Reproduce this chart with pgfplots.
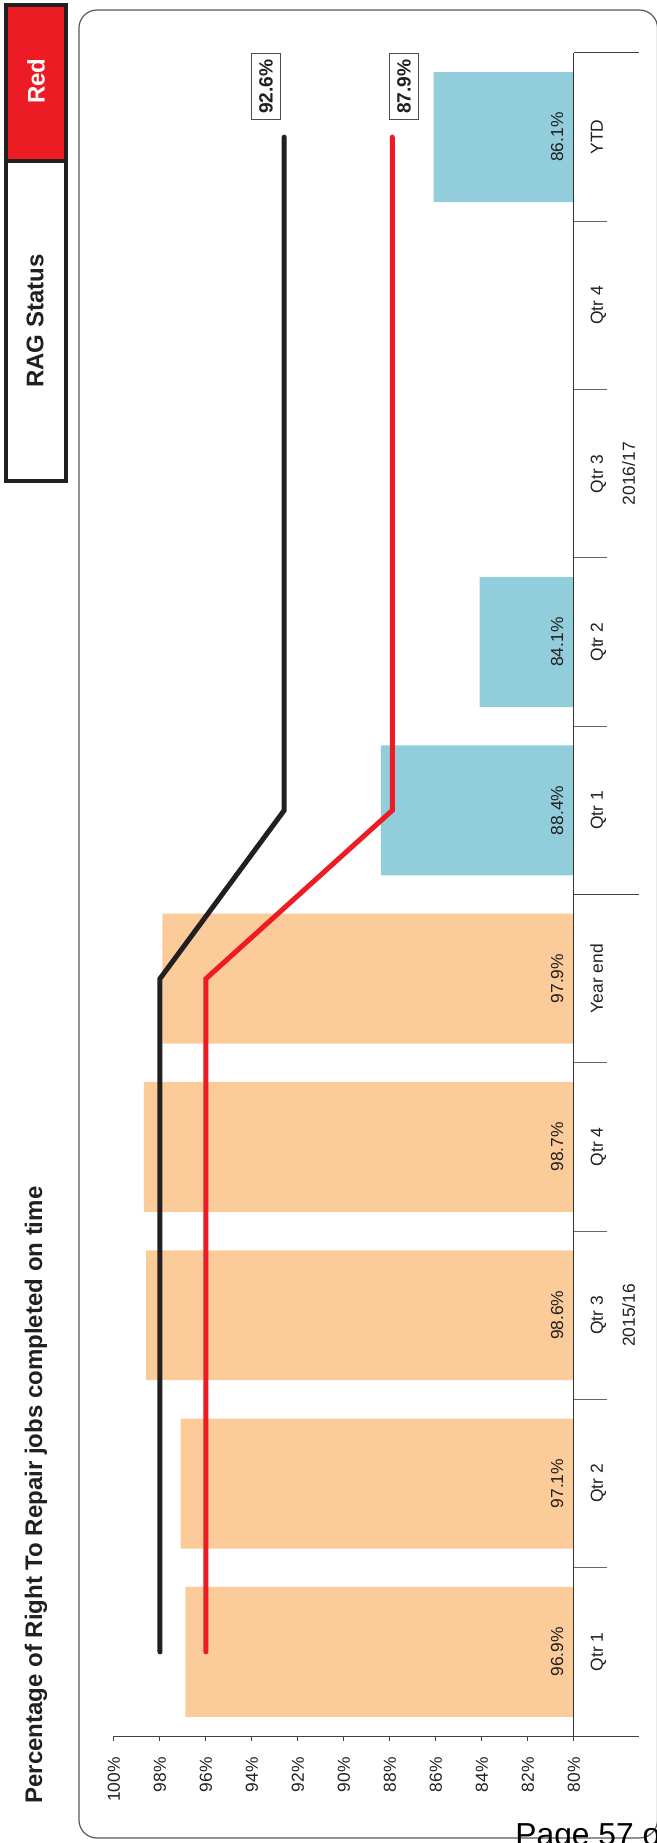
\documentclass[border=0pt]{standalone}
\usepackage{pgfplots}
\pgfplotsset{compat=1.18}
\usepackage{fontspec}
\setmainfont{Liberation Sans}
\definecolor{barorange}{RGB}{251,203,153}
\definecolor{barblue}{RGB}{146,205,220}
\definecolor{ragred}{RGB}{237,28,36}
\definecolor{inkblack}{RGB}{35,31,32}
\newcommand{\smallfont}{\fontsize{8.7}{10}\selectfont}
\begin{document}
\begin{tikzpicture}
\useasboundingbox (0,0) rectangle (328.5pt,-921.5pt);
\clip (0,0) rectangle (328.5pt,-921.5pt);
\begin{scope}[x=0.5pt,y=-0.5pt]
 \draw[black!65, line width=0.6pt, rounded corners=9pt] (79,10) rectangle (657.5,1838);
 \draw[inkblack, line width=2pt, fill=ragred] (6,4.5) rectangle (66,160.7);
 \draw[inkblack, line width=2pt] (6,160.7) rectangle (66,481);
 \node[rotate=90, text=white, font=\fontsize{12}{14}\selectfont\bfseries] at (36,81) {Red};
 \node[rotate=90, text=inkblack, font=\fontsize{12}{14}\selectfont\bfseries] at (35,321) {RAG Status};
 \node[rotate=90, anchor=base west, inner sep=0pt, text=inkblack, font=\fontsize{12}{14}\selectfont\bfseries] at (42,1804) {Percentage of Right To Repair jobs completed on time};
\end{scope}
\begin{axis}[
  at={(57pt,-868pt)}, anchor=south west,
  width=230pt, height=841.5pt, scale only axis,
  x coord trafo/.code={\pgfmathparse{#1-80}},
  x coord inv trafo/.code={\pgfmathparse{#1+80}},
  xmin=80, xmax=100, x dir=reverse,
  ymin=-0.5, ymax=9.5,
  axis x line*=bottom, axis y line=none,
  axis line style={-, black!75, line width=0.5pt},
  xtick={80,82,84,86,88,90,92,94,96,98,100},
  xticklabels={80\%,82\%,84\%,86\%,88\%,90\%,92\%,94\%,96\%,98\%,100\%},
  ytick=\empty,
  tick align=outside, major tick length=2.5pt,
  tick style={black!75, line width=0.5pt},
  xticklabel style={font=\smallfont, text=inkblack, yshift=-8pt, rotate=90, anchor=east, inner sep=0pt},
  clip=false,
  bar width=0.772,
]
\addplot[xbar, bar shift=0pt, fill=barorange, draw=none] coordinates {(96.9,0) (97.1,1) (98.6,2) (98.7,3) (97.9,4)};
\addplot[xbar, bar shift=0pt, fill=barblue, draw=none] coordinates {(88.4,5) (84.1,6) (86.1,9)};
% category axis and separators
\draw[black!80, line width=0.5pt] (axis cs:80,-0.5) -- (axis cs:80,9.5);
\draw[black!60, line width=0.5pt] (axis cs:80,0.5) -- (axis cs:78.565,0.5);
\draw[black!60, line width=0.5pt] (axis cs:80,1.5) -- (axis cs:78.565,1.5);
\draw[black!60, line width=0.5pt] (axis cs:80,2.5) -- (axis cs:78.565,2.5);
\draw[black!60, line width=0.5pt] (axis cs:80,3.5) -- (axis cs:78.565,3.5);
\draw[black!60, line width=0.5pt] (axis cs:80,5.5) -- (axis cs:78.565,5.5);
\draw[black!60, line width=0.5pt] (axis cs:80,6.5) -- (axis cs:78.565,6.5);
\draw[black!60, line width=0.5pt] (axis cs:80,7.5) -- (axis cs:78.565,7.5);
\draw[black!60, line width=0.5pt] (axis cs:80,8.5) -- (axis cs:78.565,8.5);
\draw[black!75, line width=0.5pt] (axis cs:80,-0.5) -- (axis cs:77.174,-0.5);
\draw[black!75, line width=0.5pt] (axis cs:80,4.5) -- (axis cs:77.174,4.5);
\draw[black!75, line width=0.5pt] (axis cs:80,9.5) -- (axis cs:77.174,9.5);
% target lines
\addplot[inkblack, line width=2.5pt, line cap=round, line join=miter] coordinates {(98,0) (98,1) (98,2) (98,3) (98,4) (92.6,5) (92.6,6) (92.6,7) (92.6,8) (92.6,9)};
\addplot[ragred, line width=2.5pt, line cap=round, line join=miter] coordinates {(96,0) (96,1) (96,2) (96,3) (96,4) (87.9,5) (87.9,6) (87.9,7) (87.9,8) (87.9,9)};
% value labels
\addplot[draw=none, nodes near coords, point meta=explicit symbolic,
  every node near coord/.style={rotate=90, anchor=base, inner sep=0pt, font=\smallfont, text=inkblack}]
  coordinates {(80.478,0) [96.9\%] (80.478,1) [97.1\%] (80.478,2) [98.6\%] (80.478,3) [98.7\%] (80.478,4) [97.9\%] (80.478,5) [88.4\%] (80.478,6) [84.1\%] (80.478,9) [86.1\%]};
% category labels
\addplot[draw=none, nodes near coords, point meta=explicit symbolic,
  every node near coord/.style={rotate=90, anchor=base, inner sep=0pt, font=\smallfont, text=inkblack}]
  coordinates {(78.74,0) [Qtr 1] (78.74,1) [Qtr 2] (78.74,2) [Qtr 3] (78.74,3) [Qtr 4] (78.74,4) [Year end] (78.74,5) [Qtr 1] (78.74,6) [Qtr 2] (78.74,7) [Qtr 3] (78.74,8) [Qtr 4] (78.74,9) [YTD]};
\addplot[draw=none, nodes near coords, point meta=explicit symbolic,
  every node near coord/.style={rotate=90, anchor=base, inner sep=0pt, font=\smallfont, text=inkblack}]
  coordinates {(77.35,2) [2015/16] (77.35,7) [2016/17]};
% end-of-line value boxes
\addplot[draw=none, nodes near coords, point meta=explicit symbolic,
  every node near coord/.style={rotate=90, anchor=center, draw=black!70, line width=0.6pt, inner xsep=3pt, inner ysep=4pt, font=\fontsize{9.6}{11}\selectfont\bfseries, text=inkblack}]
  coordinates {(93.39,9.3) [92.6\%] (87.39,9.3) [87.9\%]};
\end{axis}
\begin{scope}[x=0.5pt,y=-0.5pt]
 \node[anchor=base west, inner sep=0pt, text=black, font=\fontsize{15.9}{18}\selectfont] at (515,1845) {Page 57 of 90};
\end{scope}
\end{tikzpicture}
\end{document}
